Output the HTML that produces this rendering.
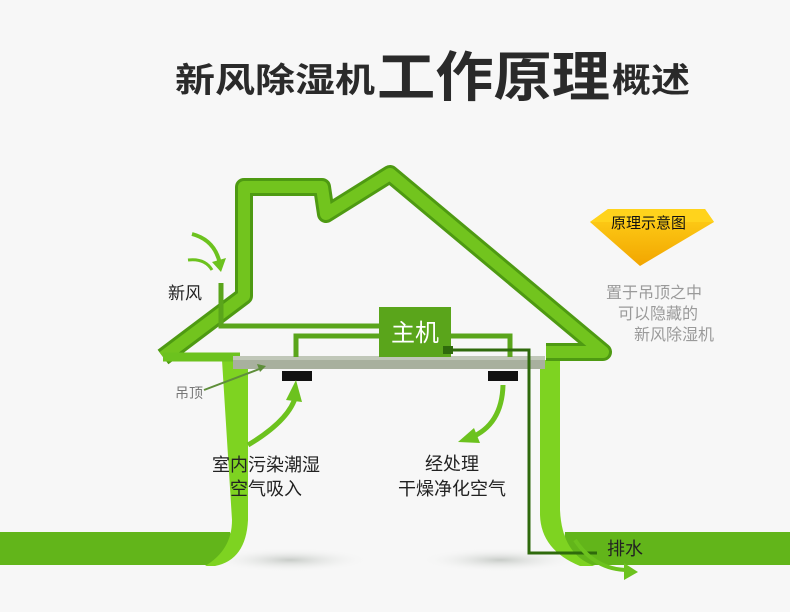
<!DOCTYPE html>
<html><head><meta charset="utf-8"><style>
html,body{margin:0;padding:0;background:#f7f7f7;}
svg{display:block;}
text{font-family:"Liberation Sans","Noto Sans CJK SC",sans-serif;}
</style></head><body>
<svg width="790" height="612" viewBox="0 0 790 612" xmlns="http://www.w3.org/2000/svg">
<defs>
<linearGradient id="yl" x1="0" y1="0" x2="0" y2="1">
<stop offset="0" stop-color="#ffd21a"/><stop offset="1" stop-color="#f2a500"/></linearGradient>
<radialGradient id="sh" cx="0.5" cy="0.5" r="0.5"><stop offset="0" stop-color="#c8ccc8"/><stop offset="1" stop-color="#f7f7f7" stop-opacity="0"/></radialGradient>
</defs>
<rect width="790" height="612" fill="#f7f7f7"/>
<!-- title -->
<text x="175" y="92" font-size="34" font-weight="bold" fill="#2a2a2a" textLength="200" lengthAdjust="spacingAndGlyphs">新风除湿机</text>
<text x="377" y="96" font-size="54" font-weight="bold" fill="#2a2a2a" textLength="233" lengthAdjust="spacingAndGlyphs">工作原理</text>
<text x="612" y="92" font-size="34" font-weight="bold" fill="#2a2a2a" textLength="78" lengthAdjust="spacingAndGlyphs">概述</text>
<!-- shadows -->
<ellipse cx="290" cy="560" rx="80" ry="12" fill="url(#sh)"/>
<ellipse cx="500" cy="560" rx="80" ry="12" fill="url(#sh)"/>
<!-- ground strips -->
<path d="M0 532 H230 Q238 560 210 565 H0 Z" fill="#62b51a"/>
<path d="M222 360 H248 V520 Q246 560 215 566 H205 Q232 550 232 520 Z" fill="#7ed321"/>
<path d="M790 532 H565 Q562 560 590 565 H790 Z" fill="#62b51a"/>
<path d="M540 360 H560 V510 Q562 555 595 566 H580 Q541 550 540 515 Z" fill="#7ed321"/>
<!-- house outline -->
<path d="M163 357 L244 296 L244 187 L322 187 L326 214 L390 174 L603 352 L546 352" fill="none" stroke="#4e9a12" stroke-width="18" stroke-linejoin="round"/>
<path d="M163 357 L244 296 L244 187 L322 187 L326 214 L390 174 L603 352 L546 352" fill="none" stroke="#72c41e" stroke-width="12" stroke-linejoin="round"/>
<path d="M163 357 H240" stroke="#6cc21e" stroke-width="9"/>
<!-- ceiling -->
<rect x="233" y="356" width="312" height="13" fill="#a8b09e"/>
<rect x="233" y="356" width="312" height="4" fill="#c0c7b8"/>
<rect x="282" y="371" width="30" height="10" fill="#111"/>
<rect x="488" y="371" width="30" height="10" fill="#111"/>
<!-- pipes -->
<path d="M221 283 V326 H380" fill="none" stroke="#5aa51b" stroke-width="5"/>
<path d="M380 336 H296 V357 M451 336 H510 V357" fill="none" stroke="#5aa51b" stroke-width="5"/>
<rect x="379" y="307" width="72" height="50" fill="#5aa51b"/>
<text x="415" y="341" font-size="24" fill="#fff" text-anchor="middle">主机</text>
<rect x="443" y="346" width="10" height="8" fill="#2f6a0c"/>
<path d="M450 350 H529 V553 H597" fill="none" stroke="#2f6a0c" stroke-width="3"/>
<!-- arrows -->
<path d="M192 234 Q215 240 220 264" fill="none" stroke="#6cc21e" stroke-width="4"/>
<path d="M212 262 L221 272 L226 258 Z" fill="#6cc21e"/>
<path d="M188 260 Q205 258 212 270" fill="none" stroke="#6cc21e" stroke-width="3"/>
<path d="M204 390 L262 368" stroke="#5e8e3a" stroke-width="2"/>
<path d="M257 364 L266 366 L260 372 Z" fill="#5e8e3a"/>
<path d="M248 445 Q290 420 296 395" fill="none" stroke="#6cc21e" stroke-width="5"/>
<path d="M286 400 L296 380 L302 402 Z" fill="#6cc21e"/>
<path d="M503 385 Q502 425 470 438" fill="none" stroke="#6cc21e" stroke-width="5"/>
<path d="M474 428 L458 442 L480 443 Z" fill="#6cc21e"/>
<path d="M575 540 Q595 570 628 570" fill="none" stroke="#6cc21e" stroke-width="4"/>
<path d="M624 563 L638 572 L624 580 Z" fill="#6cc21e"/>
<!-- labels -->
<text x="168" y="299" font-size="17" fill="#222">新风</text>
<text x="175" y="398" font-size="14" fill="#777">吊顶</text>
<text x="266" y="471" font-size="18" fill="#222" text-anchor="middle">室内污染潮湿</text>
<text x="266" y="495" font-size="18" fill="#222" text-anchor="middle">空气吸入</text>
<text x="452" y="470" font-size="18" fill="#222" text-anchor="middle">经处理</text>
<text x="452" y="495" font-size="18" fill="#222" text-anchor="middle">干燥净化空气</text>
<text x="607" y="555" font-size="18" fill="#222">排水</text>
<!-- right label -->
<polygon points="590,222 608,209 705,209 714,222 640,266" fill="url(#yl)"/>
<polygon points="608,209 705,209 714,222 590,222" fill="#ffd31c"/>
<text x="611" y="228" font-size="15" fill="#111">原理示意图</text>
<text x="606" y="298" font-size="16" fill="#9a9a9a">置于吊顶之中</text>
<text x="618" y="319" font-size="16" fill="#9a9a9a">可以隐藏的</text>
<text x="634" y="340" font-size="16" fill="#9a9a9a">新风除湿机</text>
</svg>
</body></html>
